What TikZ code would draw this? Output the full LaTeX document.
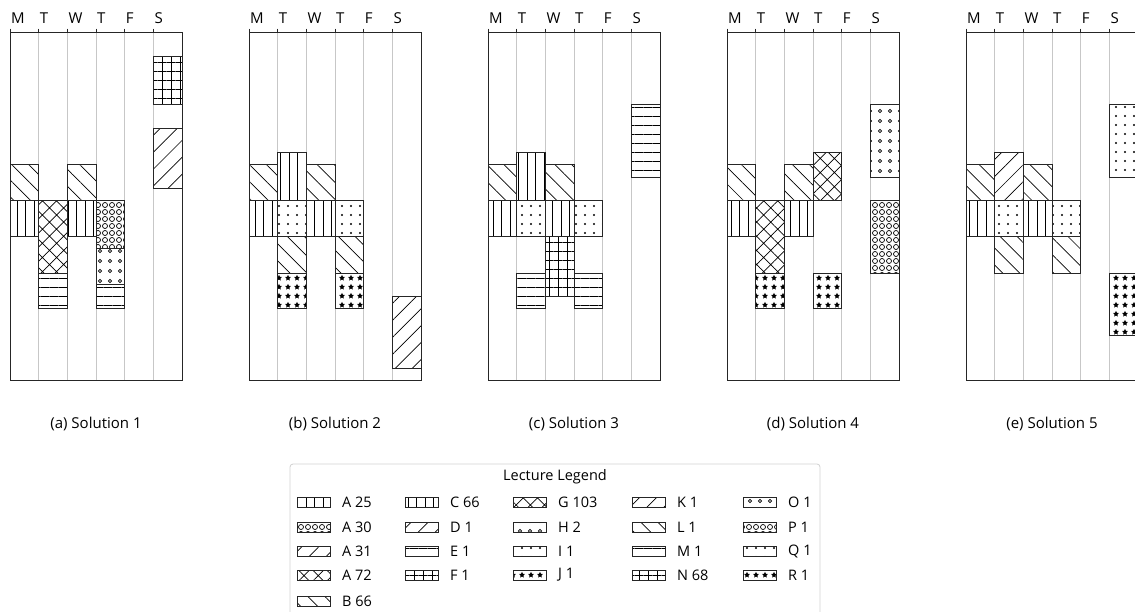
\documentclass[tikz,border=0pt]{standalone}
\usepackage{fontspec}
\setmainfont{Open Sans}
\usetikzlibrary{patterns.meta}

\pgfdeclarepattern{
  name=BigRings,
  type=uncolored,
  bottom left={\pgfpoint{-3.5pt}{-3.5pt}},
  top right={\pgfpoint{3.5pt}{3.5pt}},
  tile size={\pgfpoint{7pt}{7pt}},
  code={\pgfsetlinewidth{0.7pt}\pgfpathcircle{\pgfpointorigin}{2.5pt}\pgfusepath{stroke}}
}
\pgfdeclarepattern{
  name=SmallRings,
  type=uncolored,
  bottom left={\pgfpoint{-5pt}{-5pt}},
  top right={\pgfpoint{5pt}{5pt}},
  tile size={\pgfpoint{10pt}{10pt}},
  code={\pgfsetlinewidth{0.6pt}\pgfpathcircle{\pgfpointorigin}{1.6pt}\pgfusepath{stroke}}
}

\begin{document}
\begin{tikzpicture}[
  x=1pt, y=-1pt,
  colline/.style={draw=black!22,line width=0.8pt},
  panelframe/.style={draw=black!85,line width=0.9pt},
  blk/.style={draw=black!85,line width=0.8pt,preaction={fill=white}},
  pVert/.style={pattern={Lines[angle=90,distance=8.5pt,line width=0.7pt]}},
  pHorz/.style={pattern={Lines[angle=0,distance=9pt,line width=0.7pt]}},
  pNE/.style={pattern={Lines[angle=45,distance=12pt,line width=0.7pt]}},
  pNW/.style={pattern={Lines[angle=-45,distance=12pt,line width=0.7pt]}},
  pCross/.style={pattern={Hatch[angle=45,distance=10pt,line width=0.7pt]}},
  pGrid/.style={pattern={Hatch[angle=0,distance=9pt,line width=0.7pt]}},
  pDots/.style={pattern={Dots[distance=9pt,radius=1.2pt]}},
  pStars/.style={pattern={Stars[distance=9pt,radius=3.1pt,points=5]}},
  pBigO/.style={pattern=BigRings},
  pSmallO/.style={pattern=SmallRings},
  daytext/.style={anchor=west,inner sep=0pt,font=\fontsize{15}{17}\selectfont},
  captext/.style={inner sep=0pt,font=\fontsize{15}{17}\selectfont},
  legtext/.style={anchor=west,inner sep=0pt,font=\fontsize{14.5}{17}\selectfont}
]
\useasboundingbox (0,0) rectangle (1135,611);

% timetable frames
\foreach \p in {0,...,4}{
  \foreach \c in {1,...,5}
    \draw[colline] ({10+239*\p+\c*172/6},32) -- ({10+239*\p+\c*172/6},380);
  \foreach \d [count=\c from 0] in {M,T,W,T,F,S}{
    \draw[panelframe] ({10+239*\p+\c*172/6},28.5) -- ({10+239*\p+\c*172/6},32);
    \node[daytext] (day\p\c) at ({11+239*\p+\c*172/6},18) {\d};
  }
}

% lectures: panel/column/start/end/pattern
\foreach \p/\c/\ya/\yb/\s in {
  0/0/164/200/pNW, 0/2/164/200/pNW, 0/5/56/104/pGrid, 0/5/128/188/pNE,
  0/0/200/236/pVert, 0/2/200/236/pVert, 0/1/200/273/pCross, 0/1/273/308/pHorz,
  0/3/200/248/pBigO, 0/3/284/308/pHorz, 0/3/248/284/pSmallO,
  1/0/164/200/pNW, 1/1/152/200/pVert, 1/2/164/200/pNW, 1/0/200/236/pVert,
  1/1/200/236/pDots, 1/2/200/236/pVert, 1/3/200/236/pDots, 1/1/236/273/pNW,
  1/3/236/273/pNW, 1/1/273/308/pStars, 1/3/273/308/pStars, 1/5/296/368/pNE,
  2/5/104/177/pHorz, 2/0/164/200/pNW, 2/1/152/200/pVert, 2/2/164/200/pNW,
  2/0/200/236/pVert, 2/1/200/236/pDots, 2/2/200/236/pVert, 2/3/200/236/pDots,
  2/2/236/296/pGrid, 2/1/273/308/pHorz, 2/3/273/308/pHorz,
  3/5/104/177/pSmallO, 3/0/164/200/pNW, 3/2/164/200/pNW, 3/3/152/200/pCross,
  3/0/200/236/pVert, 3/1/200/273/pCross, 3/2/200/236/pVert, 3/5/200/273/pBigO,
  3/1/273/308/pStars, 3/3/273/308/pStars,
  4/5/104/177/pDots, 4/0/164/200/pNW, 4/1/152/200/pNE, 4/2/164/200/pNW,
  4/0/200/236/pVert, 4/1/200/236/pDots, 4/2/200/236/pVert, 4/3/200/236/pDots,
  4/1/236/273/pNW, 4/3/236/273/pNW, 4/5/273/335/pStars}
  \draw[blk,\s] ({10+239*\p+\c*172/6},\ya) rectangle ({10+239*\p+(\c+1)*172/6},\yb);

\foreach \p/\l [count=\i from 1] in {0/a,1/b,2/c,3/d,4/e}{
  \draw[panelframe] ({10+239*\p},32) rectangle ({182+239*\p},380);
  \node[captext] (caption\p) at ({96+239*\p},424) {(\l) Solution \i};
}

% legend
\draw[draw=black!18,line width=0.8pt,rounded corners=3pt] (290,625) |- (820,464) -- (820,625);
\node[inner sep=0pt,font=\fontsize{14.5}{17}\selectfont] (legtitle) at (555,477) {Lecture Legend};
\foreach \x/\y/\s/\t [count=\i] in {
  297/502/pVert/A 25, 297/527/pBigO/A 30, 297/551/pNE/A 31, 297/575/pCross/A 72, 297/601/pNW/B 66,
  405/502/pVert/C 66, 405/527/pNE/D 1, 405/551/pHorz/E 1, 405/575/pGrid/F 1,
  513/502/pCross/G 103, 513/527/pSmallO/H 2, 513/551/pDots/I 1, 513/575/pStars/J 1,
  632/502/pNE/K 1, 632/527/pNW/L 1, 632/551/pHorz/M 1, 632/575/pGrid/N 68,
  743/502/pSmallO/O 1, 743/527/pBigO/P 1, 743/551/pDots/Q 1, 743/575/pStars/R 1}{
  \draw[blk,\s] (\x,\y-5) rectangle (\x+33,\y+5);
  \node[legtext] (leg\i) at (\x+45,\y) {\t};
}
\end{tikzpicture}
\end{document}
